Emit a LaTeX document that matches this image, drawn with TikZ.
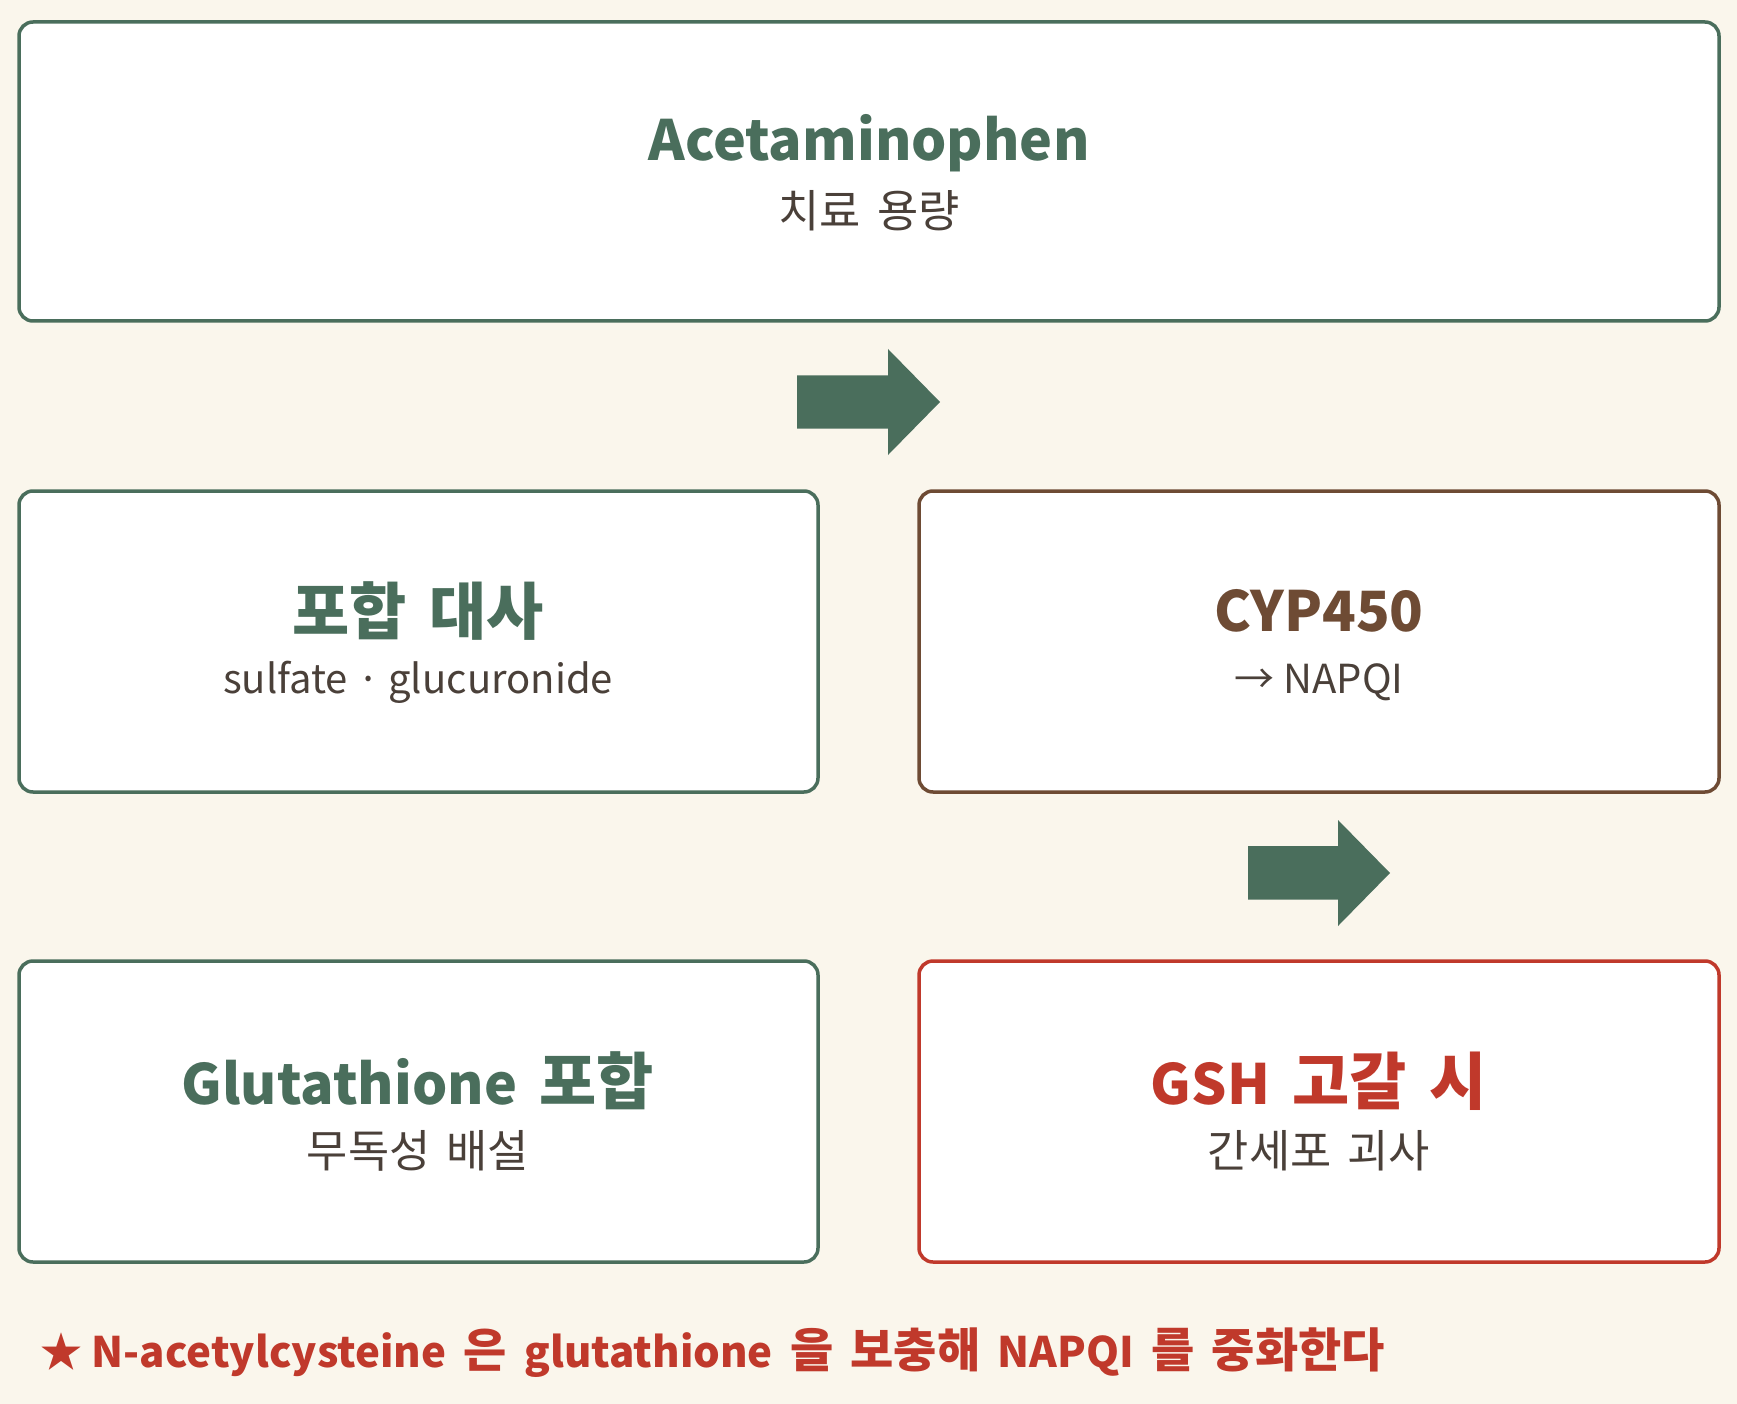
\documentclass[tikz,border=0pt]{standalone}
\usepackage{fontspec}
\setmainfont{Noto Sans CJK KR}
\newfontfamily\kr{Noto Sans CJK KR}[Scale=1.12,WordSpace=1.6]
\definecolor{bgc}{HTML}{FAF6EC}
\definecolor{grn}{HTML}{4A6E5C}
\definecolor{brn}{HTML}{6E4B34}
\definecolor{redc}{HTML}{C0392B}
\definecolor{txt}{HTML}{4A4039}
\begin{document}
\begin{tikzpicture}[x=1pt,y=-1pt,
  box/.style={draw=#1,fill=white,line width=3.5pt,rounded corners=14pt},
  ttl/.style={font=\fontsize{55.5}{62}\selectfont\bfseries,text=#1,inner sep=0pt,anchor=center},
  sub/.style={font=\fontsize{40}{46}\selectfont,text=txt,inner sep=0pt,anchor=center},
  bigarrow/.style={fill=grn,draw=none}]
\fill[bgc] (0,0) rectangle (1737,1404);
\useasboundingbox (0,0) rectangle (1737,1404);
% boxes
\draw[box=grn] (19,22) rectangle (1719,321);
\draw[box=grn] (19,491) rectangle (818,792);
\draw[box=brn] (919,491) rectangle (1719,792);
\draw[box=grn] (19,961) rectangle (818,1262);
\draw[box=redc] (919,961) rectangle (1719,1262);
% texts
\node[ttl=grn] (t1) at (869,143) {Acetaminophen};
\node[sub] (s1) at (869,211) {\kr 치료 용량};
\node[ttl=grn] (t2) at (418,611) {\kr 포합 대사};
\node[sub] (s2) at (418,682) {sulfate · glucuronide};
\node[ttl=brn] (t3) at (1319,611) {CYP450};
\node[sub] (s3) at (1319,682) {→ NAPQI};
\node[ttl=grn] (t4) at (418,1081) {Glutathione{\kr\ 포합}};
\node[sub] (s4) at (418,1151) {\kr 무독성 배설};
\node[ttl=redc] (t5) at (1319,1081) {GSH{\kr\ 고갈 시}};
\node[sub] (s5) at (1319,1151) {\kr 간세포 괴사};
% arrows
\fill[bigarrow] (797,375.5) -- (888,375.5) -- (888,349) -- (940,402) -- (888,455) -- (888,428.5) -- (797,428.5) -- cycle;
\fill[bigarrow] (1248,846) -- (1338,846) -- (1338,820) -- (1390,873) -- (1338,926) -- (1338,899.5) -- (1248,899.5) -- cycle;
% footnote
\node[font=\fontsize{42}{48}\selectfont\bfseries,text=redc,inner sep=0pt,anchor=west] (fn) at (40,1353) {★ N-acetylcysteine{\kr\ 은 }glutathione{\kr\ 을 보충해 }NAPQI{\kr\ 를 중화한다}};
\end{tikzpicture}
\end{document}
